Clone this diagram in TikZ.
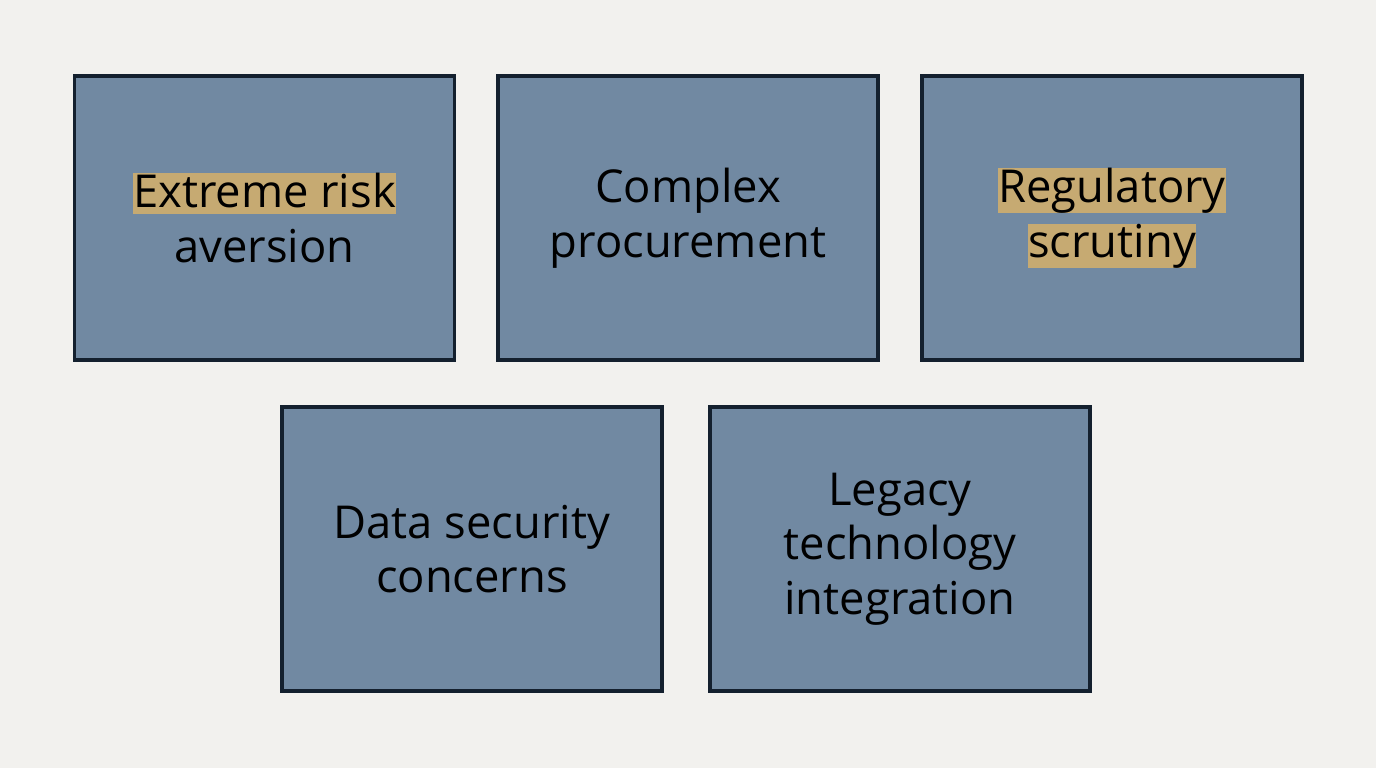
\documentclass[tikz,border=0pt]{standalone}
\usepackage{fontspec}
\setmainfont{Open Sans}
\usepackage{xcolor}
\definecolor{bgpaper}{HTML}{F2F1EE}
\definecolor{boxfill}{HTML}{7189A2}
\definecolor{boxline}{HTML}{14202E}
\definecolor{hlcolor}{HTML}{C6AA72}
\newcommand{\hlword}[1]{{\setlength{\fboxsep}{0pt}\colorbox{hlcolor}{\rule[-5pt]{0pt}{26pt}#1}}}

\begin{document}
\begin{tikzpicture}[x=0.75pt,y=0.75pt,yscale=-1,xscale=1,
    card/.style={draw=boxline,fill=boxfill,line width=2.6pt,minimum width=285pt,minimum height=213pt,inner sep=0pt,
      font=\fontsize{34}{41}\selectfont,text=black,align=center}]
    %background
    \fill[bgpaper] (0,0) rectangle (1376,768);
    
    % Top row
    \node[card] (risk) at (264.5,218) {\hlword{Extreme risk}\\aversion};
    \node[card] (procure) at (688,218) {Complex\\procurement};
    \node[card] (regul) at (1112,218) {\hlword{Regulatory}\\\hlword{scrutiny}};
    % Bottom row
    \node[card] (datasec) at (472,549) {Data security\\concerns};
    \node[card] (legacy) at (900,549) {Legacy\\technology\\integration};
    
\end{tikzpicture}
\end{document}
